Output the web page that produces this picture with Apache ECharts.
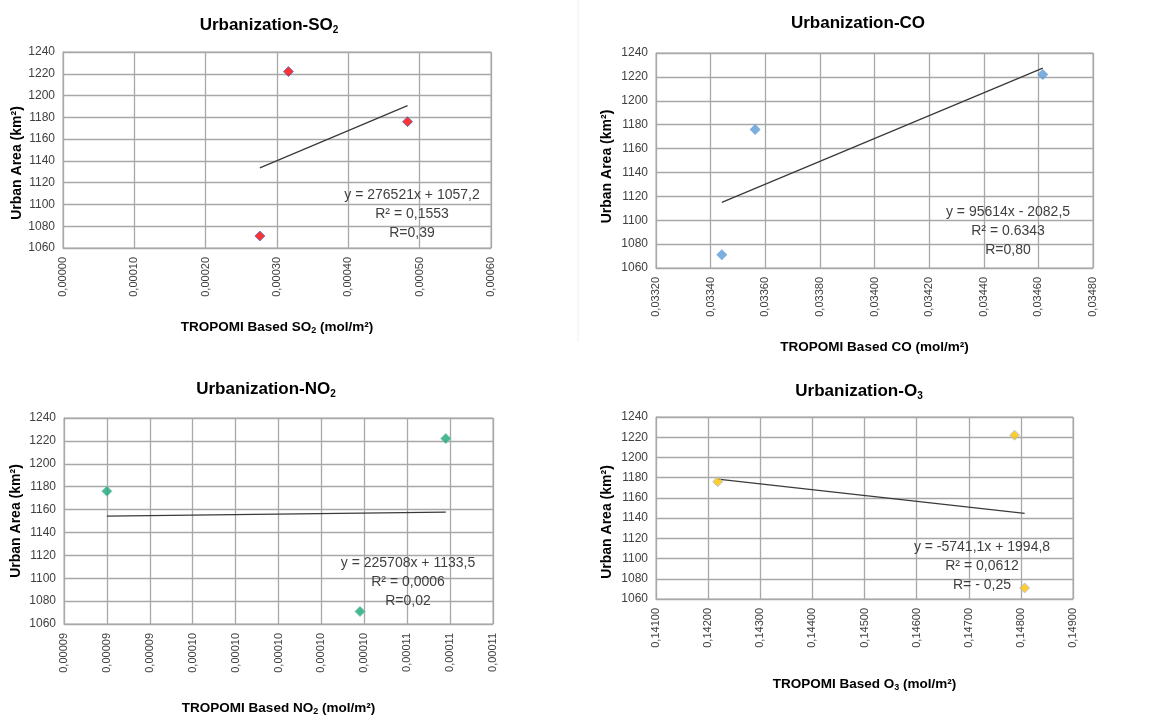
<!DOCTYPE html>
<html>
<head>
<meta charset="utf-8">
<script src="https://cdn.jsdelivr.net/npm/echarts@6/dist/echarts.min.js"></script>
<style>
  html, body { margin: 0; padding: 0; background: #fff; }
  #main { width: 1157px; height: 720px; }
</style>
</head>
<body>
<div id="main"></div>
<script>
// urban area (km2) of the three dates, same order in every pollutant list
const urbanArea = [1071, 1176, 1222];

// TROPOMI columns (mol/m2)
const so2 = [0.000276, 0.000483, 0.000316];
const co = [0.033441, 0.033563, 0.034616];
const no2 = [0.0001038, 0.000092, 0.0001078];
const o3 = [0.148072, 0.142184, 0.14788];

// trend line end points (x, y)
const trendSO2 = [[0.000276, 1133.5], [0.000483, 1190.8]];
const trendCO = [[0.033441, 1115.0], [0.034616, 1227.3]];
const trendNO2 = [[0.000092, 1154.3], [0.0001078, 1157.8]];
const trendO3 = [[0.142184, 1178.5], [0.148072, 1144.7]];

// equation boxes
const eqSO2 = ['y = 276521x + 1057,2', 'R² = 0,1553', 'R=0,39'];
const eqCO = ['y = 95614x - 2082,5', 'R² = 0.6343', 'R=0,80'];
const eqNO2 = ['y = 225708x + 1133,5', 'R² = 0,0006', 'R=0,02'];
const eqO3 = ['y = -5741,1x + 1994,8', 'R² = 0,0612', 'R= - 0,25'];

// axis ranges [min, max, interval]
const xRangeSO2 = [0, 0.0006, 0.0001];
const xRangeCO = [0.0332, 0.0348, 0.0002];
const xRangeNO2 = [0.00009, 0.00011, 0.000002];
const xRangeO3 = [0.141, 0.149, 0.001];
const yRange = [1060, 1240, 20];

const FONT = 'Liberation Sans, Arial, sans-serif';
const GRID_COLOR = '#a8a8a8';
const TXT = '#404040';

const panels = [
  { name: 'SO', sub: '2', x: so2, trend: trendSO2, eq: eqSO2, xr: xRangeSO2,
    grid: { left: 63, top: 52, width: 428, height: 196 },
    title: [264, 11], eqPos: [412, 186], xGap: 71, yGap: 38, yShift: 26,
    marker: { color: '#ff0000', borderColor: '#4472c4', borderWidth: 1 }, size: 10 },
  { name: 'CO', sub: '', x: co, trend: trendCO, eq: eqCO, xr: xRangeCO,
    grid: { left: 656, top: 53, width: 437, height: 215 },
    title: [853, 10], eqPos: [1008, 203], xGap: 72, yGap: 42, yShift: 12,
    marker: { color: '#5b9bd5' }, size: 11 },
  { name: 'NO', sub: '2', x: no2, trend: trendNO2, eq: eqNO2, xr: xRangeNO2,
    grid: { left: 64, top: 418, width: 429, height: 206 },
    title: [261, 375], eqPos: [408, 554], xGap: 76, yGap: 41, yShift: 0,
    marker: { color: '#1ba57a', borderColor: '#6cc4a4', borderWidth: 1 }, size: 10 },
  { name: 'O', sub: '3', x: o3, trend: trendO3, eq: eqO3, xr: xRangeO3,
    grid: { left: 656, top: 417, width: 417, height: 182 },
    title: [854, 377], eqPos: [982, 538], xGap: 77, yGap: 42, yShift: 28,
    marker: { color: '#ffc000', borderColor: '#9dc3e6', borderWidth: 1 }, size: 10 }
];

const subStyle = { fontSize: 10, fontWeight: 'bold', fontFamily: FONT, color: '#000', padding: [9, 0, 0, 0] };

function fmt(v) {
  return v.toFixed(5).replace('.', ',');
}

const option = {
  animation: false,
  title: [],
  grid: [],
  xAxis: [],
  yAxis: [],
  series: [],
  graphic: [
    // faint separator between the two upper panels
    { type: 'line', shape: { x1: 578, y1: 0, x2: 578, y2: 342 }, style: { stroke: '#efefef', lineWidth: 1 }, silent: true }
  ]
};

panels.forEach((p, i) => {
  const t = p.sub ? 'Urbanization-' + p.name + '{sub|' + p.sub + '}' : 'Urbanization-' + p.name;
  option.title.push({
    text: t,
    left: p.title[0],
    top: p.title[1],
    textAlign: 'center',
    textStyle: {
      fontFamily: FONT, fontSize: 17, fontWeight: 'bold', color: '#000',
      rich: { sub: subStyle }
    }
  });

  option.grid.push(Object.assign({
    show: true, borderColor: GRID_COLOR, borderWidth: 1, backgroundColor: '#fff'
  }, p.grid));

  const xName = p.sub
    ? 'TROPOMI Based ' + p.name + '{sub|' + p.sub + '}' + ' (mol/m²)'
    : 'TROPOMI Based ' + p.name + ' (mol/m²)';

  option.xAxis.push({
    type: 'value',
    gridIndex: i,
    min: p.xr[0],
    max: p.xr[1],
    interval: p.xr[2],
    name: xName,
    nameLocation: 'middle',
    nameGap: p.xGap,
    nameTextStyle: {
      fontFamily: FONT, fontSize: 13.5, fontWeight: 'bold', color: '#000',
      rich: { sub: { fontSize: 9, fontWeight: 'bold', fontFamily: FONT, color: '#000', padding: [7, 0, 0, 0] } }
    },
    axisLine: { show: true, lineStyle: { color: GRID_COLOR } },
    axisTick: { show: false },
    splitLine: { show: true, lineStyle: { color: GRID_COLOR, width: 1.3 } },
    axisLabel: {
      rotate: 90, fontFamily: FONT, fontSize: 11, color: TXT, margin: 9,
      formatter: fmt
    }
  });

  option.yAxis.push({
    type: 'value',
    gridIndex: i,
    min: yRange[0],
    max: yRange[1],
    interval: yRange[2],
    name: 'Urban Area (km²)',
    nameLocation: 'middle',
    nameGap: p.yGap,
    nameTextStyle: {
      fontFamily: FONT, fontSize: 14, fontWeight: 'bold', color: '#000',
      padding: [0, p.yShift, 0, 0]
    },
    axisLine: { show: true, lineStyle: { color: GRID_COLOR } },
    axisTick: { show: false },
    splitLine: { show: true, lineStyle: { color: GRID_COLOR, width: 1.3 } },
    axisLabel: {
      fontFamily: FONT, fontSize: 12, color: TXT, margin: 8,
      formatter: v => String(v)
    }
  });

  option.series.push({
    type: 'line',
    xAxisIndex: i,
    yAxisIndex: i,
    data: p.trend,
    showSymbol: false,
    lineStyle: { color: '#3a3a3a', width: 1.3 },
    z: 3
  });

  option.series.push({
    type: 'scatter',
    xAxisIndex: i,
    yAxisIndex: i,
    symbol: 'diamond',
    symbolSize: p.size,
    data: p.x.map((v, k) => [v, urbanArea[k]]),
    itemStyle: p.marker,
    z: 4
  });

  option.graphic.push({
    type: 'text',
    x: p.eqPos[0],
    y: p.eqPos[1],
    z: 10,
    style: {
      text: p.eq.join('\n'),
      textAlign: 'center',
      fontFamily: FONT,
      fontSize: 14,
      lineHeight: 19,
      fill: TXT
    }
  });
});

const chart = echarts.init(document.getElementById('main'));
chart.setOption(option);
</script>
</body>
</html>
